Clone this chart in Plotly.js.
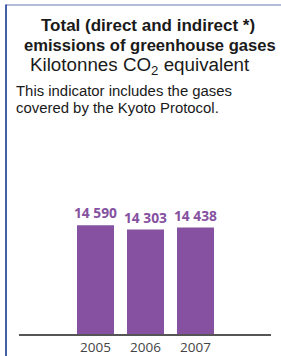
<!DOCTYPE html>
<html>
<head>
<meta charset="utf-8">
<script src="https://cdn.plot.ly/plotly-3.0.1.min.js"></script>
<style>html,body{margin:0;padding:0;background:#fff;}#chart{width:281px;height:356px;}</style>
</head>
<body>
<div id="chart"></div>
<script>
// Data
const years = ['2005', '2006', '2007'];
const emissions = [14590, 14303, 14438];
const titleLines = ['Total (direct and indirect *)', 'emissions of greenhouse gases'];
const unitText = 'Kilotonnes CO<sub>2</sub> equivalent';
const noteLines = ['This indicator includes the gases', 'covered by the Kyoto Protocol.'];

const W = 281, H = 356;
const m = {l: 19, r: 10, t: 150, b: 22};
const pw = W - m.l - m.r, ph = H - m.t - m.b;
const px = X => (X - m.l) / pw;
const py = Y => (H - m.b - Y) / ph;

const purple = '#8551a0';

const annotations = [
  {text: titleLines[0], x: px(148), y: py(26), font: {family: 'Liberation Sans, Arial', size: 17, color: '#1a1a1a', weight: 'bold'}},
  {text: titleLines[1], x: px(150), y: py(46), font: {family: 'Liberation Sans, Arial', size: 16.6, color: '#1a1a1a', weight: 'bold'}},
  {text: unitText, x: px(140), y: py(66), font: {family: 'Liberation Sans, Arial', size: 18.8, color: '#1a1a1a'}},
  {text: noteLines[0], x: px(14), y: py(91), xanchor: 'left', font: {family: 'Liberation Sans, Arial', size: 14.9, color: '#1a1a1a'}},
  {text: noteLines[1], x: px(14), y: py(108), xanchor: 'left', font: {family: 'Liberation Sans, Arial', size: 14.9, color: '#1a1a1a'}}
].map(a => Object.assign({xref: 'paper', yref: 'paper', showarrow: false, xanchor: 'center', yanchor: 'middle'}, a));

const data = [{
  type: 'bar',
  x: years,
  y: emissions,
  width: 0.74,
  marker: {color: purple},
  texttemplate: '%{y:,d}',
  textposition: 'outside',
  constraintext: 'none',
  cliponaxis: false,
  textfont: {family: 'Open Sans', size: 13.8, color: purple, weight: 'bold'},
  hoverinfo: 'none'
}];

const layout = {
  width: W, height: H,
  margin: m,
  paper_bgcolor: '#fff',
  plot_bgcolor: '#fff',
  separators: '. ',
  showlegend: false,
  xaxis: {
    type: 'category',
    range: [-1.53, 3.51],
    showline: true, linecolor: '#555', linewidth: 1.5,
    showgrid: false, zeroline: false, ticks: '',
    tickfont: {family: 'Open Sans', size: 13.5, color: '#444'},
    fixedrange: true
  },
  yaxis: {
    range: [7340, 19607],
    visible: false,
    fixedrange: true
  },
  annotations: annotations,
  shapes: [
    {type: 'line', xref: 'paper', yref: 'paper', x0: px(6), x1: px(282), y0: py(5), y1: py(5), line: {color: '#9aa6cc', width: 1.5}},
    {type: 'line', xref: 'paper', yref: 'paper', x0: px(6), x1: px(6), y0: py(4.5), y1: py(357), line: {color: '#3050a4', width: 1.8}}
  ]
};

Plotly.newPlot('chart', data, layout, {staticPlot: true, displayModeBar: false});
</script>
</body>
</html>
